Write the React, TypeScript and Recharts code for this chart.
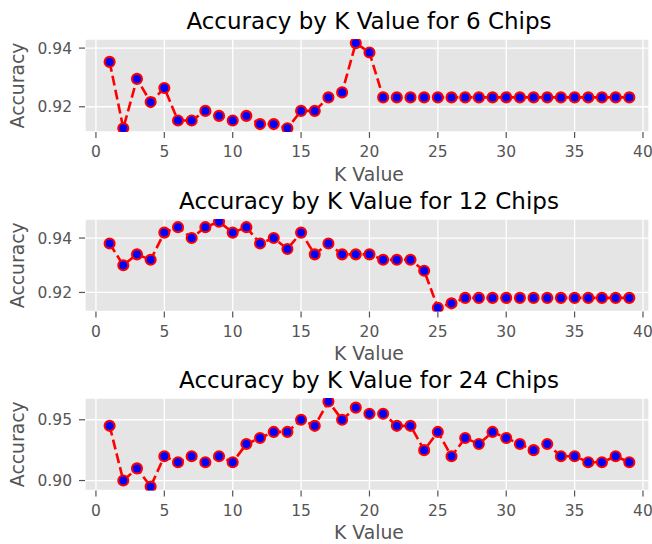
import React from 'react';
import { LineChart, Line, XAxis, YAxis, CartesianGrid } from 'recharts';

const kValues = [
  1, 2, 3, 4, 5, 6, 7, 8, 9, 10, 11, 12, 13, 14, 15, 16, 17, 18, 19, 20,
  21, 22, 23, 24, 25, 26, 27, 28, 29, 30, 31, 32, 33, 34, 35, 36, 37, 38, 39,
];

const acc6 = [
  0.9353, 0.9127, 0.9295, 0.9216, 0.9264, 0.9153, 0.9153, 0.9186, 0.9169, 0.9153,
  0.9169, 0.9141, 0.9141, 0.9127, 0.9186, 0.9186, 0.9232, 0.9249, 0.9417, 0.9385,
  0.9232, 0.9232, 0.9232, 0.9232, 0.9232, 0.9232, 0.9232, 0.9232, 0.9232, 0.9232,
  0.9232, 0.9232, 0.9232, 0.9232, 0.9232, 0.9232, 0.9232, 0.9232, 0.9232,
];

const acc12 = [
  0.938, 0.930, 0.934, 0.932, 0.942, 0.944, 0.940, 0.944, 0.946, 0.942,
  0.944, 0.938, 0.940, 0.936, 0.942, 0.934, 0.938, 0.934, 0.934, 0.934,
  0.932, 0.932, 0.932, 0.928, 0.9144, 0.916, 0.918, 0.918, 0.918, 0.918,
  0.918, 0.918, 0.918, 0.918, 0.918, 0.918, 0.918, 0.918, 0.918,
];

const acc24 = [
  0.945, 0.900, 0.910, 0.895, 0.920, 0.915, 0.920, 0.915, 0.920, 0.915,
  0.930, 0.935, 0.940, 0.940, 0.950, 0.945, 0.965, 0.950, 0.960, 0.955,
  0.955, 0.945, 0.945, 0.925, 0.940, 0.920, 0.935, 0.930, 0.940, 0.935,
  0.930, 0.925, 0.930, 0.920, 0.920, 0.915, 0.915, 0.920, 0.915,
];

const xTicks = [0, 5, 10, 15, 20, 25, 30, 35, 40];
const yTicks6 = [0.92, 0.94];
const yTicks12 = [0.92, 0.94];
const yTicks24 = [0.9, 0.95];

const titles = [
  'Accuracy by K Value for 6 Chips',
  'Accuracy by K Value for 12 Chips',
  'Accuracy by K Value for 24 Chips',
];
const xLabel = 'K Value';
const yLabel = 'Accuracy';

const FONT = 'DejaVu Sans';
const W = 652;
const PLOT_RIGHT = 649;
const Y_AXIS_W = 85;
const TOP_M = 39;
const X_AXIS_H = 54;
const TITLE_CX = 369;

type PanelProps = {
  chartTop: number;
  plotH: number;
  values: number[];
  yDomain: [number, number];
  yTicks: number[];
  title: string;
};

function Panel({ chartTop, plotH, values, yDomain, yTicks, title }: PanelProps) {
  const data = kValues.map((k, i) => ({ k, acc: values[i] }));
  const H = TOP_M + plotH + X_AXIS_H;
  return (
    <div style={{ position: 'absolute', left: 0, top: chartTop, width: W, height: H }}>
      <div
        style={{
          position: 'absolute',
          left: TITLE_CX,
          top: TOP_M - 29.5,
          transform: 'translateX(-50%)',
          whiteSpace: 'nowrap',
          fontFamily: FONT,
          fontSize: 23,
          lineHeight: '23px',
          color: '#000',
        }}
      >
        {title}
      </div>
      <LineChart
        width={W}
        height={H}
        data={data}
        margin={{ top: TOP_M, right: W - PLOT_RIGHT, bottom: 0, left: 0 }}
        style={{ position: 'absolute', left: 0, top: 0 }}
      >
        <CartesianGrid fill="#E5E5E5" stroke="#FFFFFF" strokeWidth={1.3} />
        <XAxis
          dataKey="k"
          type="number"
          domain={[-0.8, 40.44]}
          ticks={xTicks}
          interval={0}
          allowDataOverflow
          height={X_AXIS_H}
          axisLine={false}
          tickLine={{ stroke: '#555555', strokeWidth: 1.2 }}
          tickSize={6}
          tickMargin={8}
          tick={{ fill: '#555555', fontSize: 15.5, fontFamily: FONT }}
          label={{
            content: () => (
              <text
                x={TITLE_CX}
                y={TOP_M + plotH + 48.7}
                textAnchor="middle"
                fill="#555555"
                fontSize={18.8}
                fontFamily={FONT}
              >
                {xLabel}
              </text>
            ),
          }}
        />
        <YAxis
          type="number"
          width={Y_AXIS_W}
          domain={yDomain}
          ticks={yTicks}
          interval={0}
          allowDataOverflow
          axisLine={false}
          tickLine={{ stroke: '#555555', strokeWidth: 1.2 }}
          tickSize={6}
          tickMargin={7}
          tick={{ fill: '#555555', fontSize: 15.5, fontFamily: FONT }}
          tickFormatter={(v: number) => v.toFixed(2)}
          label={{
            content: () => {
              const cy = TOP_M + plotH / 2;
              return (
                <text
                  x={23.5}
                  y={cy}
                  transform={`rotate(-90, 23.5, ${cy})`}
                  textAnchor="middle"
                  fill="#555555"
                  fontSize={18.8}
                  fontFamily={FONT}
                >
                  {yLabel}
                </text>
              );
            },
          }}
        />
        <Line
          type="linear"
          dataKey="acc"
          stroke="#FF0000"
          strokeWidth={2.6}
          strokeDasharray="10 4.2"
          dot={{ r: 5, fill: '#0000FF', stroke: '#FF0000', strokeWidth: 2.1, strokeDasharray: 'none' }}
          activeDot={false}
          isAnimationActive={false}
        />
      </LineChart>
    </div>
  );
}

export default function App() {
  return (
    <div
      style={{
        position: 'absolute',
        left: 0,
        top: 0,
        width: W,
        height: 544,
        overflow: 'hidden',
        background: '#FFFFFF',
        fontFamily: FONT,
      }}
    >
      <Panel chartTop={0} plotH={93} values={acc6} yDomain={[0.9114, 0.9431]} yTicks={yTicks6} title={titles[0]} />
      <Panel chartTop={180} plotH={92.5} values={acc12} yDomain={[0.913, 0.947]} yTicks={yTicks12} title={titles[1]} />
      <Panel chartTop={359} plotH={92.5} values={acc24} yDomain={[0.8918, 0.9679]} yTicks={yTicks24} title={titles[2]} />
    </div>
  );
}
